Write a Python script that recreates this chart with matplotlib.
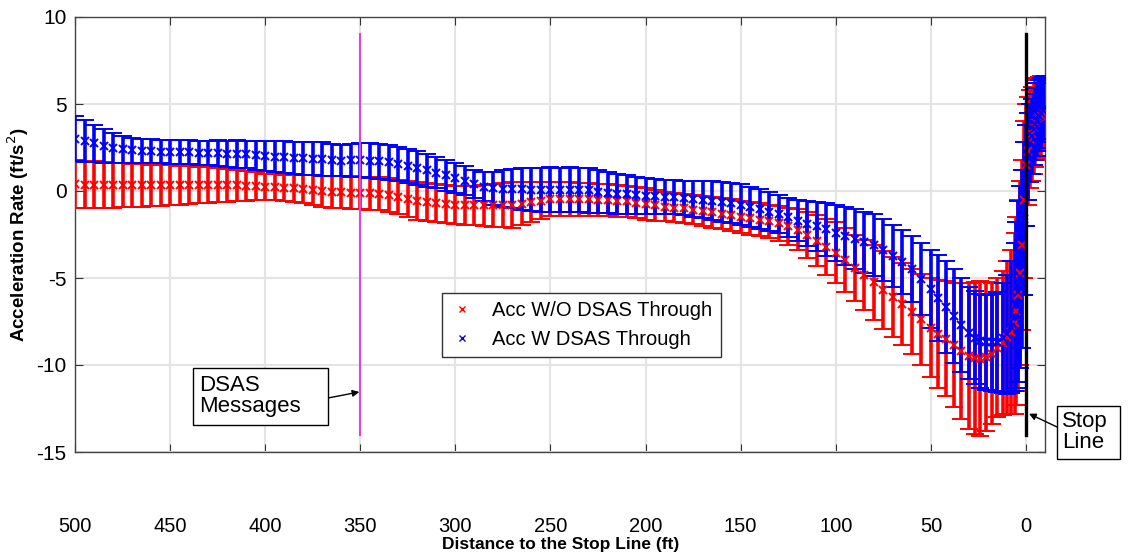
import numpy as np
import matplotlib
matplotlib.use("Agg")
import matplotlib.pyplot as plt
from matplotlib.lines import Line2D
from matplotlib.patches import Rectangle

plt.rcParams["font.family"] = ["Liberation Sans", "DejaVu Sans"]
plt.rcParams["axes.unicode_minus"] = False

# distance to stop line (ft): every 5 ft far out, finer near the line
dist = np.concatenate([np.arange(500, 49, -5),
                       [46, 42, 38, 34, 30, 27, 24, 21, 18, 15, 12, 10, 8, 6, 5, 4, 3, 2, 1,
                        0, -1, -2, -3, -4, -5, -6, -7, -8, -9, -10]])

# Acc W/O DSAS Through (red): mean and std
red_mean = [0.38, 0.37, 0.37, 0.35, 0.34, 0.34, 0.33, 0.33, 0.32, 0.33,
            0.33, 0.34, 0.34, 0.34, 0.34, 0.34, 0.33, 0.32, 0.30, 0.28,
            0.25, 0.22, 0.19, 0.15, 0.10, 0.05, -0.01, -0.05, -0.07, -0.09,
            -0.11, -0.13, -0.15, -0.25, -0.35, -0.46, -0.58, -0.64, -0.70, -0.75,
            -0.80, -0.82, -0.83, -0.83, -0.83, -0.82, -0.80, -0.74, -0.65, -0.55,
            -0.48, -0.47, -0.46, -0.47, -0.48, -0.50, -0.51, -0.56, -0.60, -0.68,
            -0.75, -0.83, -0.90, -0.95, -1.00, -1.07, -1.15, -1.23, -1.30, -1.39,
            -1.48, -1.56, -1.65, -1.75, -1.85, -2.03, -2.23, -2.54, -2.85, -3.20,
            -3.55, -3.98, -4.40, -4.83, -5.25, -5.68, -6.10, -6.50, -6.93, -7.38,
            -7.85,
            -8.20, -8.50, -8.85, -9.20, -9.50, -9.60, -9.63, -9.53, -9.35, -9.00,
            -8.75, -8.40, -8.10, -7.60, -6.90, -6.00, -4.70, -3.10, -0.50, 1.50,
            2.30, 3.00, 3.30, 3.60, 3.88, 4.15, 4.23, 4.30, 4.45, 4.55]
red_std = [1.38, 1.36, 1.34, 1.31, 1.29, 1.27, 1.25, 1.23, 1.20, 1.18,
           1.15, 1.12, 1.09, 1.05, 1.02, 0.99, 0.96, 0.91, 0.85, 0.80,
           0.75, 0.74, 0.74, 0.77, 0.80, 0.85, 0.89, 0.92, 0.93, 0.94,
           0.94, 0.95, 0.95, 0.98, 1.00, 1.04, 1.08, 1.09, 1.10, 1.10,
           1.10, 1.12, 1.13, 1.18, 1.23, 1.27, 1.30, 1.24, 1.15, 1.05,
           0.98, 0.97, 0.96, 0.95, 0.93, 0.92, 0.91, 0.91, 0.90, 0.90,
           0.90, 0.88, 0.85, 0.85, 0.85, 0.85, 0.85, 0.88, 0.90, 0.92,
           0.93, 0.94, 0.95, 0.97, 1.00, 1.08, 1.18, 1.32, 1.45, 1.60,
           1.75, 1.83, 1.90, 2.03, 2.15, 2.23, 2.30, 2.35, 2.43, 2.63,
           2.85,
           3.10, 3.30, 3.55, 3.90, 4.20, 4.35, 4.43, 4.28, 4.05, 4.00,
           4.15, 4.40, 4.70, 5.20, 5.40, 5.50, 5.30, 4.90, 4.50, 3.50,
           3.10, 2.80, 2.70, 2.60, 2.48, 2.35, 2.33, 2.30, 2.15, 2.05]

# Acc W DSAS Through (blue): mean and std
blue_mean = [3.00, 2.87, 2.73, 2.59, 2.48, 2.39, 2.33, 2.29, 2.28, 2.26,
             2.25, 2.24, 2.23, 2.21, 2.20, 2.18, 2.15, 2.13, 2.10, 2.06,
             2.02, 1.97, 1.94, 1.90, 1.87, 1.86, 1.84, 1.78, 1.74, 1.76,
             1.78, 1.75, 1.71, 1.64, 1.55, 1.44, 1.33, 1.19, 1.05, 0.90,
             0.75, 0.58, 0.40, 0.25, 0.16, 0.14, 0.13, 0.10, 0.08, 0.08,
             0.08, 0.07, 0.07, 0.06, 0.04, -0.03, -0.09, -0.15, -0.20, -0.24,
             -0.28, -0.31, -0.34, -0.37, -0.40, -0.45, -0.49, -0.55, -0.62, -0.70,
             -0.79, -0.90, -1.03, -1.18, -1.33, -1.50, -1.70, -1.87, -2.04, -2.21,
             -2.40, -2.59, -2.78, -2.95, -3.13, -3.40, -3.73, -4.09, -4.50, -5.05,
             -5.65,
             -6.15, -6.68, -7.20, -7.70, -8.15, -8.43, -8.60, -8.68, -8.70, -8.68,
             -8.45, -8.23, -7.80, -7.25, -6.55, -5.80, -4.95, -3.90, -1.60, 0.90,
             2.00, 2.75, 3.15, 3.55, 3.85, 4.10, 4.33, 4.50, 4.68, 4.80]
blue_std = [1.30, 1.19, 1.08, 0.97, 0.88, 0.79, 0.73, 0.69, 0.68, 0.67,
            0.67, 0.68, 0.68, 0.69, 0.70, 0.73, 0.75, 0.78, 0.80, 0.84,
            0.87, 0.89, 0.92, 0.94, 0.95, 0.96, 0.96, 0.92, 0.89, 0.93,
            0.98, 1.00, 1.01, 1.01, 1.00, 0.99, 0.98, 0.94, 0.90, 0.88,
            0.85, 0.83, 0.80, 0.85, 0.96, 1.06, 1.13, 1.20, 1.23, 1.26,
            1.28, 1.28, 1.29, 1.29, 1.29, 1.23, 1.19, 1.15, 1.10, 1.06,
            1.03, 0.99, 0.96, 0.98, 1.00, 1.03, 1.06, 1.10, 1.14, 1.15,
            1.17, 1.15, 1.13, 1.10, 1.08, 1.12, 1.20, 1.31, 1.42, 1.51,
            1.60, 1.67, 1.73, 1.75, 1.78, 1.78, 1.78, 1.84, 1.90, 2.05,
            2.25,
            2.45, 2.63, 2.70, 2.70, 2.65, 2.68, 2.70, 2.73, 2.80, 2.88,
            3.15, 3.43, 3.80, 4.25, 4.75, 5.20, 5.25, 5.10, 4.40, 2.90,
            2.50, 2.25, 2.15, 2.05, 2.05, 2.10, 2.03, 2.00, 1.88, 1.80]

x_ticks = [500, 450, 400, 350, 300, 250, 200, 150, 100, 50, 0]
y_ticks = [-15, -10, -5, 0, 5, 10]

W, H = 1128, 558
fig = plt.figure(figsize=(W / 100, H / 100), dpi=100)
ax = fig.add_axes([75 / W, 1 - 452 / H, 970 / W, 435 / H])

eb = dict(fmt="x", markersize=5.5, markeredgewidth=1.4, elinewidth=2.6,
          capsize=6.5, capthick=2.4, zorder=3)
ax.errorbar(dist, red_mean, yerr=red_std, color="red", ecolor="red", **eb)
ax.errorbar(dist, blue_mean, yerr=blue_std, color="blue", ecolor="blue", **eb)

# DSAS message point and stop line
ax.plot([350, 350], [9, -14], color="#DC46DC", lw=1.5, zorder=4)
ax.plot([0, 0], [9, -14], color="black", lw=2.4, zorder=5)

ax.set_xlim(500, -10)
ax.set_ylim(-15, 10)
ax.set_xticks(x_ticks)
ax.set_yticks(y_ticks)
ax.grid(True, color="#e4e4e4", lw=1.5, zorder=0)
ax.set_axisbelow(True)
ax.tick_params(direction="in", top=True, right=True, length=6, width=0.8,
               colors="#333333", labelcolor="black")
ax.tick_params(axis="x", pad=47, labelsize=14.5)
ax.tick_params(axis="y", pad=6, labelsize=15)
for s in ax.spines.values():
    s.set_color("#444444")
    s.set_linewidth(1.0)

ax.set_ylabel("Acceleration Rate (ft/s$^2$)", fontsize=13.5, fontweight="bold",
              labelpad=4)
fig.text(561 / W, 1 - 545 / H, "Distance to the Stop Line (ft)", fontsize=12.5,
         fontweight="bold", ha="center", va="center")

handles = [Line2D([], [], ls="none", marker="x", color="red", markersize=4),
           Line2D([], [], ls="none", marker="x", color="blue", markersize=4)]
leg = ax.legend(handles, ["Acc W/O DSAS Through", "Acc W DSAS Through"],
                loc="upper left", bbox_to_anchor=(442 / W, 1 - 293 / H),
                bbox_transform=fig.transFigure, fontsize=14.5, fancybox=False,
                framealpha=1, edgecolor="#333333", borderaxespad=0,
                handlelength=1.2, handletextpad=0.9, labelspacing=0.5,
                borderpad=0.4)
leg.get_frame().set_linewidth(1.0)
leg.set_zorder(10)

# text boxes with arrows
fig.patches.append(Rectangle((193 / W, 1 - 425 / H), 135 / W, 57 / H,
                             transform=fig.transFigure, fill=True, fc="white",
                             ec="black", lw=1.0, zorder=10))
fig.text(199 / W, 1 - 396 / H, "DSAS\nMessages", fontsize=16, ha="left",
         va="center", linespacing=1.05, zorder=11)
ax.annotate("", xy=(350.5, -11.55), xycoords="data",
            xytext=(328 / W, 1 - 398 / H), textcoords="figure fraction",
            arrowprops=dict(arrowstyle="-|>", color="black", lw=1.0,
                            mutation_scale=10, shrinkA=0, shrinkB=0),
            annotation_clip=False, zorder=11)

fig.patches.append(Rectangle((1057 / W, 1 - 459 / H), 63 / W, 53 / H,
                             transform=fig.transFigure, fill=True, fc="white",
                             ec="black", lw=1.0, zorder=10))
fig.text(1062 / W, 1 - 432 / H, "Stop\nLine", fontsize=16, ha="left",
         va="center", linespacing=1.05, zorder=11)
ax.annotate("", xy=(-1.6, -12.8), xycoords="data",
            xytext=(1057 / W, 1 - 427 / H), textcoords="figure fraction",
            arrowprops=dict(arrowstyle="-|>", color="black", lw=1.0,
                            mutation_scale=10, shrinkA=0, shrinkB=0),
            annotation_clip=False, zorder=11)

fig.savefig("out.png", dpi=100)
